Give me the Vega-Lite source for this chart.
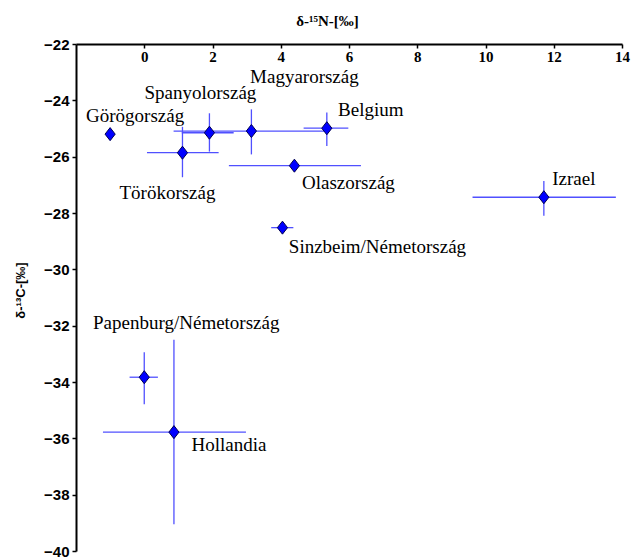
{
  "$schema": "https://vega.github.io/schema/vega-lite/v6.json",
  "width": 546,
  "height": 507,
  "autosize": {"type": "none"},
  "padding": {"left": 76, "top": 44, "right": 14, "bottom": 8},
  "background": "white",
  "config": {
    "view": {"stroke": null},
    "axis": {
      "grid": false,
      "tickSize": 4, "tickColor": "black", "tickWidth": 1.5,
      "domainColor": "black", "domainWidth": 2,
      "labelPadding": 3, "labelColor": "black", "labelFlush": false, "labelOverlap": false,
      "titleColor": "black", "titleFontWeight": "bold"
    },
    "axisX": {
      "offset": -507,
      "labelPadding": 1,
      "labelBaseline": "top",
      "labelFont": "Liberation Serif", "labelFontWeight": "bold", "labelFontSize": 15,
      "titleFont": "Liberation Serif", "titleFontSize": 15,
      "titleX": 251, "titleY": -24, "titleAlign": "center", "titleBaseline": "middle"
    },
    "axisY": {
      "labelFont": "Liberation Sans", "labelFontWeight": "bold", "labelFontSize": 15,
      "titleFont": "Liberation Sans", "titleFontSize": 13, "titleAngle": -90,
      "titleX": -56, "titleY": 246, "titleAlign": "center", "titleBaseline": "middle"
    },
    "text": {"font": "Liberation Serif", "fontSize": 19, "align": "center", "baseline": "middle", "color": "black"}
  },
  "data": {
    "values": [
      {"country": "Görögország", "n": -1.0, "c": -25.2},
      {"country": "Törökország", "n": 1.12, "c": -25.86, "nlo": 0.08, "nhi": 2.18, "clo": -26.73, "chi": -24.94},
      {"country": "Spanyolország", "n": 1.91, "c": -25.15, "nlo": 1.1, "nhi": 2.62, "clo": -25.82, "chi": -24.46},
      {"country": "Magyarország", "n": 3.14, "c": -25.09, "nlo": 0.86, "nhi": 5.37, "clo": -25.92, "chi": -24.32},
      {"country": "Belgium", "n": 5.35, "c": -24.99, "nlo": 4.67, "nhi": 5.98, "clo": -25.62, "chi": -24.43},
      {"country": "Olaszország", "n": 4.4, "c": -26.32, "nlo": 2.48, "nhi": 6.35},
      {"country": "Sinzbeim/Németország", "n": 4.05, "c": -28.52, "nlo": 3.72, "nhi": 4.37},
      {"country": "Izrael", "n": 11.71, "c": -27.44, "nlo": 9.62, "nhi": 13.82, "clo": -28.1, "chi": -26.86},
      {"country": "Papenburg/Németország", "n": 0.0, "c": -33.83, "nlo": -0.43, "nhi": 0.4, "clo": -34.79, "chi": -32.94},
      {"country": "Hollandia", "n": 0.87, "c": -35.78, "nlo": -1.21, "nhi": 2.98, "clo": -39.05, "chi": -32.5}
    ]
  },
  "layer": [
    {
      "transform": [{"filter": "isValid(datum.nlo)"}],
      "mark": {"type": "rule", "color": "#5050ff", "strokeWidth": 1.3},
      "encoding": {
        "x": {"field": "nlo", "type": "quantitative", "title": "δ-¹⁵N-[‰]",
              "scale": {"domain": [-2, 14], "nice": false, "zero": false},
              "axis": {"values": [0, 2, 4, 6, 8, 10, 12, 14]}},
        "x2": {"field": "nhi"},
        "y": {"field": "c", "type": "quantitative", "title": "δ-¹³C-[‰]",
              "scale": {"domain": [-40, -22], "nice": false, "zero": false},
              "axis": {"values": [-22, -24, -26, -28, -30, -32, -34, -36, -38, -40]}}
      }
    },
    {
      "transform": [{"filter": "isValid(datum.clo)"}],
      "mark": {"type": "rule", "color": "#5050ff", "strokeWidth": 1.3},
      "encoding": {
        "x": {"field": "n", "type": "quantitative", "title": "δ-¹⁵N-[‰]", "axis": {"values": [0, 2, 4, 6, 8, 10, 12, 14]}},
        "y": {"field": "clo", "type": "quantitative", "title": "δ-¹³C-[‰]", "axis": {"values": [-22, -24, -26, -28, -30, -32, -34, -36, -38, -40]}},
        "y2": {"field": "chi"}
      }
    },
    {
      "mark": {"type": "point", "shape": "M0,-1L0.78,0L0,1L-0.78,0Z", "size": 170, "filled": true, "fill": "#0000ff", "stroke": "#000050", "strokeWidth": 1, "opacity": 1},
      "encoding": {
        "x": {"field": "n", "type": "quantitative", "title": "δ-¹⁵N-[‰]", "axis": {"values": [0, 2, 4, 6, 8, 10, 12, 14]}},
        "y": {"field": "c", "type": "quantitative", "title": "δ-¹³C-[‰]", "axis": {"values": [-22, -24, -26, -28, -30, -32, -34, -36, -38, -40]}}
      }
    },
    {
      "transform": [{"filter": "datum.country === 'Görögország'"}],
      "mark": {"type": "text", "dx": 25, "dy": -18},
      "encoding": {"x": {"field": "n", "type": "quantitative", "title": "δ-¹⁵N-[‰]"}, "y": {"field": "c", "type": "quantitative", "title": "δ-¹³C-[‰]"}, "text": {"field": "country"}}
    },
    {
      "transform": [{"filter": "datum.country === 'Spanyolország'"}],
      "mark": {"type": "text", "dx": -9, "dy": -40},
      "encoding": {"x": {"field": "n", "type": "quantitative", "title": "δ-¹⁵N-[‰]"}, "y": {"field": "c", "type": "quantitative", "title": "δ-¹³C-[‰]"}, "text": {"field": "country"}}
    },
    {
      "transform": [{"filter": "datum.country === 'Magyarország'"}],
      "mark": {"type": "text", "dx": 53, "dy": -54},
      "encoding": {"x": {"field": "n", "type": "quantitative", "title": "δ-¹⁵N-[‰]"}, "y": {"field": "c", "type": "quantitative", "title": "δ-¹³C-[‰]"}, "text": {"field": "country"}}
    },
    {
      "transform": [{"filter": "datum.country === 'Belgium'"}],
      "mark": {"type": "text", "dx": 44, "dy": -18},
      "encoding": {"x": {"field": "n", "type": "quantitative", "title": "δ-¹⁵N-[‰]"}, "y": {"field": "c", "type": "quantitative", "title": "δ-¹³C-[‰]"}, "text": {"field": "country"}}
    },
    {
      "transform": [{"filter": "datum.country === 'Törökország'"}],
      "mark": {"type": "text", "dx": -15, "dy": 40},
      "encoding": {"x": {"field": "n", "type": "quantitative", "title": "δ-¹⁵N-[‰]"}, "y": {"field": "c", "type": "quantitative", "title": "δ-¹³C-[‰]"}, "text": {"field": "country"}}
    },
    {
      "transform": [{"filter": "datum.country === 'Olaszország'"}],
      "mark": {"type": "text", "dx": 54, "dy": 17},
      "encoding": {"x": {"field": "n", "type": "quantitative", "title": "δ-¹⁵N-[‰]"}, "y": {"field": "c", "type": "quantitative", "title": "δ-¹³C-[‰]"}, "text": {"field": "country"}}
    },
    {
      "transform": [{"filter": "datum.country === 'Sinzbeim/Németország'"}],
      "mark": {"type": "text", "dx": 95, "dy": 19},
      "encoding": {"x": {"field": "n", "type": "quantitative", "title": "δ-¹⁵N-[‰]"}, "y": {"field": "c", "type": "quantitative", "title": "δ-¹³C-[‰]"}, "text": {"field": "country"}}
    },
    {
      "transform": [{"filter": "datum.country === 'Izrael'"}],
      "mark": {"type": "text", "dx": 30, "dy": -18},
      "encoding": {"x": {"field": "n", "type": "quantitative", "title": "δ-¹⁵N-[‰]"}, "y": {"field": "c", "type": "quantitative", "title": "δ-¹³C-[‰]"}, "text": {"field": "country"}}
    },
    {
      "transform": [{"filter": "datum.country === 'Papenburg/Németország'"}],
      "mark": {"type": "text", "dx": 42, "dy": -54},
      "encoding": {"x": {"field": "n", "type": "quantitative", "title": "δ-¹⁵N-[‰]"}, "y": {"field": "c", "type": "quantitative", "title": "δ-¹³C-[‰]"}, "text": {"field": "country"}}
    },
    {
      "transform": [{"filter": "datum.country === 'Hollandia'"}],
      "mark": {"type": "text", "dx": 55, "dy": 13},
      "encoding": {"x": {"field": "n", "type": "quantitative", "title": "δ-¹⁵N-[‰]"}, "y": {"field": "c", "type": "quantitative", "title": "δ-¹³C-[‰]"}, "text": {"field": "country"}}
    }
  ]
}
